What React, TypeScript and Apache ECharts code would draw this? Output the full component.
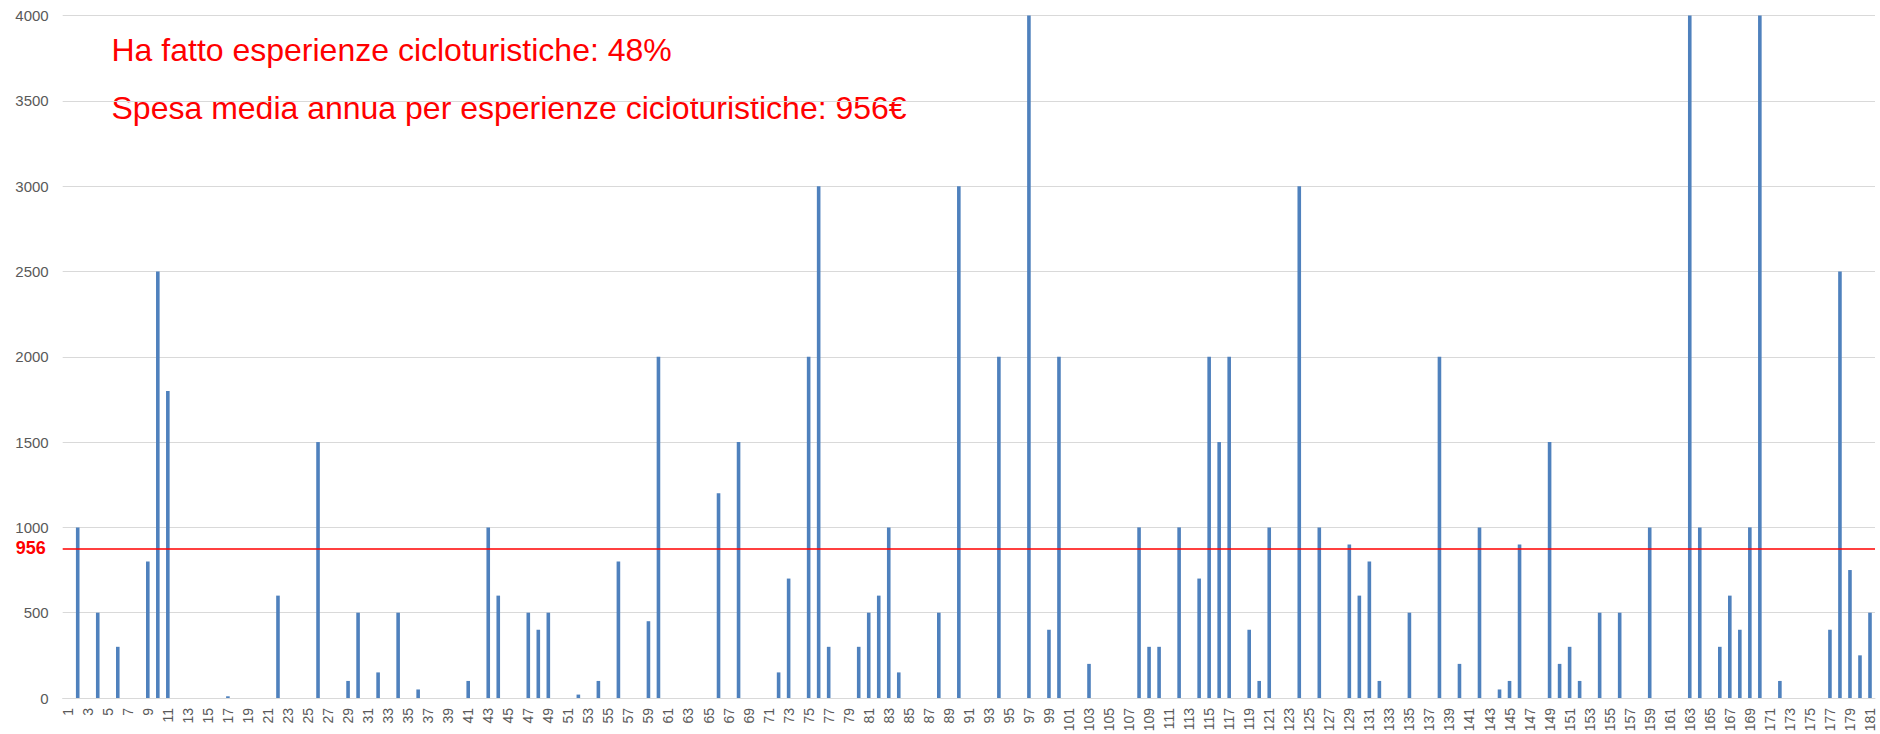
import React, { useEffect, useRef } from "react";
import * as echarts from "echarts";

const respondents: string[] = Array.from({ length: 181 }, (_, i) => String(i + 1));

const spending: number[] = [
  0, 1000, 0, 500, 0, 300, 0, 0, 800, 2500,
  1800, 0, 0, 0, 0, 0, 10, 0, 0, 0,
  0, 600, 0, 0, 0, 1500, 0, 0, 100, 500,
  0, 150, 0, 500, 0, 50, 0, 0, 0, 0,
  100, 0, 1000, 600, 0, 0, 500, 400, 500, 0,
  0, 20, 0, 100, 0, 800, 0, 0, 450, 2000,
  0, 0, 0, 0, 0, 1200, 0, 1500, 0, 0,
  0, 150, 700, 0, 2000, 3000, 300, 0, 0, 300,
  500, 600, 1000, 150, 0, 0, 0, 500, 0, 3000,
  0, 0, 0, 2000, 0, 0, 4000, 0, 400, 2000,
  0, 0, 200, 0, 0, 0, 0, 1000, 300, 300,
  0, 1000, 0, 700, 2000, 1500, 2000, 0, 400, 100,
  1000, 0, 0, 3000, 0, 1000, 0, 0, 900, 600,
  800, 100, 0, 0, 500, 0, 0, 2000, 0, 200,
  0, 1000, 0, 50, 100, 900, 0, 0, 1500, 200,
  300, 100, 0, 500, 0, 500, 0, 0, 1000, 0,
  0, 0, 4000, 1000, 0, 300, 600, 400, 1000, 4000,
  0, 100, 0, 0, 0, 0, 400, 2500, 750, 250,
  500,
];

const averageSpend = 956;
const annotationLines: string[] = [
  "Ha fatto esperienze cicloturistiche: 48%",
  "Spesa media annua per esperienze cicloturistiche: 956€",
];

export default function App() {
  const ref = useRef<HTMLDivElement>(null);

  useEffect(() => {
    if (!ref.current) return;
    const chart = echarts.init(ref.current, null, { renderer: "svg" });
    const font = "Liberation Sans, Arial, sans-serif";
    chart.setOption({
      animation: false,
      backgroundColor: "#ffffff",
      textStyle: { fontFamily: font },
      grid: {
        left: 62.7,
        right: 5,
        top: 15.5,
        bottom: 36,
        containLabel: false,
        outerBoundsMode: "none",
      },
      xAxis: {
        type: "category",
        data: respondents,
        axisLine: { show: true, lineStyle: { color: "#d9d9d9", width: 1 } },
        axisTick: { show: false },
        axisLabel: {
          interval: 1,
          rotate: 90,
          fontSize: 14,
          color: "#595959",
          margin: 10,
          fontFamily: font,
        },
      },
      yAxis: [
        {
          type: "value",
          min: 0,
          max: 4000,
          interval: 500,
          axisLine: { show: false },
          axisTick: { show: false },
          splitLine: { lineStyle: { color: "#d9d9d9", width: 1 } },
          axisLabel: {
            fontSize: 15,
            color: "#595959",
            margin: 14,
            fontFamily: font,
            formatter: (v: number) => String(v),
          },
        },
        {
          type: "value",
          min: 0,
          max: 4360,
          show: false,
          splitLine: { show: false },
        },
      ],
      series: [
        {
          type: "bar",
          data: spending,
          barWidth: 3.6,
          itemStyle: { color: "#4F81BD" },
        },
        {
          type: "line",
          yAxisIndex: 1,
          data: [],
          markLine: {
            silent: true,
            symbol: "none",
            lineStyle: { color: "#FF0000", width: 1.5, type: "solid" },
            label: {
              show: true,
              position: "start",
              formatter: String(averageSpend),
              color: "#FF0000",
              fontWeight: "bold",
              fontSize: 18,
              distance: 17,
              fontFamily: font,
            },
            data: [{ yAxis: averageSpend }],
          },
        },
      ],
      graphic: [
        {
          type: "text",
          left: 111.5,
          top: 34,
          style: {
            text: annotationLines[0],
            fill: "#FF0000",
            fontSize: 32,
            fontFamily: font,
          },
        },
        {
          type: "text",
          left: 111.5,
          top: 91.5,
          style: {
            text: annotationLines[1],
            fill: "#FF0000",
            fontSize: 32,
            fontFamily: font,
          },
        },
      ],
    });
    return () => chart.dispose();
  }, []);

  return (
    <div
      ref={ref}
      style={{ position: "fixed", left: 0, top: 0, width: 1880, height: 734, background: "#fff" }}
    />
  );
}
